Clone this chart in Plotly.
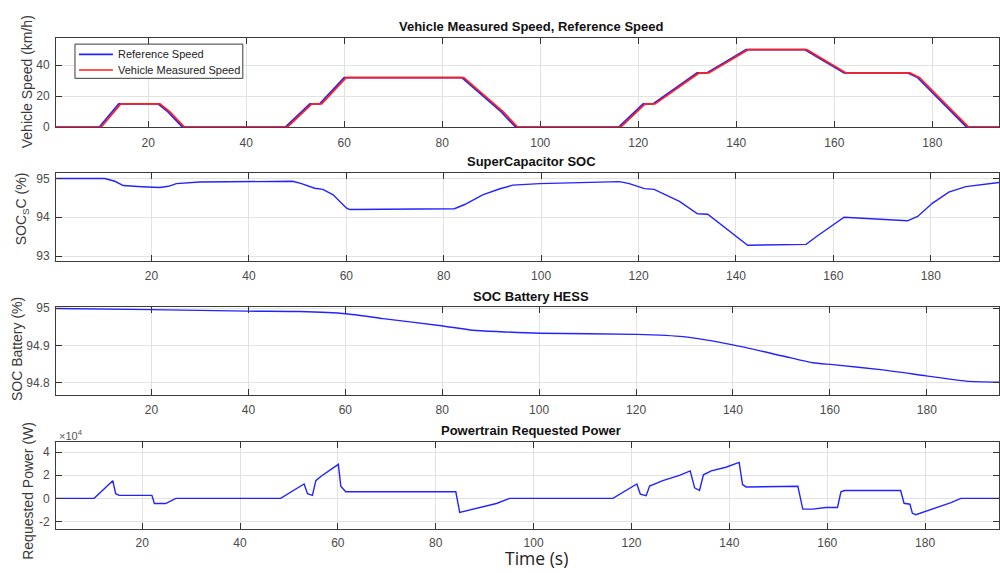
import plotly.graph_objects as go

# ---------------- data ----------------
time_ticks = [20, 40, 60, 80, 100, 120, 140, 160, 180]

ref_speed_t = [1, 10, 14, 22, 24, 27, 48, 53, 55, 60, 84, 92, 95, 116, 121, 123,
               132, 134, 142, 154, 162, 175, 177, 184, 187, 195]
ref_speed_v = [0, 0, 15, 15, 10, 0, 0, 15, 15, 32, 32, 10, 0, 0, 15, 15,
               35, 35, 50, 50, 35, 35, 32, 10, 0, 0]

meas_speed_t = [1, 10.4, 14.4, 22.4, 24.4, 27.4, 48.4, 53.4, 55.4, 60.4, 84.4, 92.4, 95.4,
                116.4, 121.4, 123.4, 132.4, 134.4, 142.4, 154.4, 162.4, 175.4, 177.4,
                184.4, 187.4, 195]
meas_speed_v = [0, 0, 15, 15, 10, 0, 0, 15, 15, 32, 32, 10, 0, 0, 15, 15,
                35, 35, 50, 50, 35, 35, 32, 10, 0, 0]

sc_t = [0.5, 10.4, 12.5, 14.2, 18, 21.7, 23.5, 25.1, 29.9, 39.8, 49.0, 50.8, 53.5, 55.2,
        57.3, 60.0, 60.7, 82.2, 84.3, 88.0, 91.4, 94.2, 99.7, 116.1, 118.1, 121.2, 123.2,
        128.4, 132.1, 134.2, 142.4, 154.4, 156.4, 162.2, 175.2, 177.3, 180.3, 183.7,
        187.2, 194]
sc_v = [95.0, 95.0, 94.93, 94.82, 94.79, 94.77, 94.80, 94.87, 94.91, 94.93, 94.93, 94.87,
        94.75, 94.72, 94.58, 94.24, 94.20, 94.22, 94.33, 94.58, 94.73, 94.83, 94.87, 94.92,
        94.87, 94.74, 94.72, 94.41, 94.09, 94.08, 93.28, 93.30, 93.49, 94.00, 93.91, 94.02,
        94.36, 94.65, 94.79, 94.90]

bat_t = [0.4, 20.0, 39.9, 50.6, 60.2, 67.8, 79.8, 86.3, 91.9, 100.1, 120.1, 129.7, 140.0,
         150.3, 156.5, 160.6, 170.9, 179.9, 188.1, 195]
bat_v = [94.999, 94.996, 94.992, 94.991, 94.985, 94.972, 94.953, 94.941, 94.937, 94.933,
         94.930, 94.924, 94.902, 94.872, 94.854, 94.849, 94.835, 94.819, 94.805, 94.802]

pw_t = [2.4, 10.2, 14.0, 14.6, 15.3, 22.0, 22.5, 24.8, 26.9, 48.3, 53.1, 53.8, 54.8, 55.5,
        56.5, 60.1, 60.6, 61.6, 84.1, 84.9, 92.4, 95.1, 116.2, 121.1, 121.8, 123.0, 123.7,
        126.4, 129.8, 132.0, 132.9, 133.9, 134.7, 136.3, 139.3, 142.0, 142.7, 143.4, 154.0,
        155.0, 157.0, 159.7, 162.1, 162.8, 163.5, 175.0, 175.7, 176.9, 177.4, 178.1, 185.3,
        187.3, 195.1]
pw_v = [0, 0, 15300, 4000, 2600, 2600, -4500, -4500, 0, 0, 12500, 4000, 2600, 15300,
        19000, 29500, 10500, 5700, 5700, -12200, -4500, 0, 0, 12500, 3700, 2300, 10600,
        15300, 19900, 23800, 9100, 6800, 20400, 23800, 27000, 31200, 11900, 9900, 10500,
        -9400, -9400, -7900, -7900, 5700, 6800, 6800, -4300, -5100, -13000, -14200, -3700,
        0, 0]

titles = ["Vehicle Measured Speed, Reference Speed", "SuperCapacitor SOC",
          "SOC Battery HESS", "Powertrain Requested Power"]
ylabels = ["Vehicle Speed (km/h)", "SOC<sub>S</sub>C (%)", "SOC Battery (%)",
           "Requested Power (W)"]
legend_names = ["Reference Speed", "Vehicle Measured Speed"]
speed_yticks = [0, 20, 40]
sc_yticks = [93, 94, 95]
bat_yticks = [94.8, 94.9, 95]
bat_yticktext = ["94.8", "94.9", "95"]
pw_yticks = [-20000, 0, 20000, 40000]
pw_yticktext = ["-2", "0", "2", "4"]

# ---------------- layout helpers ----------------
W, H = 1000, 573
L, R = 56, 1000
panels_px = [(33, 124), (171, 261), (308, 398), (446, 535)]
xranges = [[1.2, 193.6], [0.4, 194.0], [0.3, 194.9], [2.4, 195.1]]
yranges = [[0, 57.4], [92.87, 95.14], [94.768, 95.003], [-26500, 49000]]
title_y = [21, 159, 297, 434]
ylab_pos = [(27, 78), (22, 208), (17, 351), (28, 496)]


def px_x(px):
    return (px - L) / (R - L)


def px_y(py):
    return 1 - py / H


FONT = "Liberation Sans, Arial, sans-serif"
BLUE = "rgb(35,35,255)"
RED = "rgb(255,30,30)"
LINE_COLORS = [BLUE, RED]

fig = go.Figure()

fig.add_trace(go.Scatter(x=ref_speed_t, y=ref_speed_v, mode="lines", name=legend_names[0],
                         line=dict(color=BLUE, width=1.7), xaxis="x", yaxis="y"))
fig.add_trace(go.Scatter(x=meas_speed_t, y=meas_speed_v, mode="lines",
                         name=legend_names[1],
                         line=dict(color=RED, width=1.7), xaxis="x", yaxis="y"))
fig.add_trace(go.Scatter(x=sc_t, y=sc_v, mode="lines",
                         line=dict(color=BLUE, width=1.4), xaxis="x2", yaxis="y2"))
fig.add_trace(go.Scatter(x=bat_t, y=bat_v, mode="lines",
                         line=dict(color=BLUE, width=1.4, shape="spline", smoothing=0.6),
                         xaxis="x3", yaxis="y3"))
fig.add_trace(go.Scatter(x=pw_t, y=pw_v, mode="lines",
                         line=dict(color=BLUE, width=1.4), xaxis="x4", yaxis="y4"))

axis_common = dict(showgrid=True, gridcolor="#e2e2e2", gridwidth=1, ticks="inside",
                   ticklen=6, tickcolor="#333333", tickwidth=1, showline=True,
                   linecolor="#3c3c3c", linewidth=1, mirror="ticks", zeroline=False,
                   tickfont=dict(family=FONT, size=12, color="#4a4a4a"))

ytick_specs = [(speed_yticks, None), (sc_yticks, None), (bat_yticks, bat_yticktext),
               (pw_yticks, pw_yticktext)]

layout = {}
for i in range(4):
    sfx = "" if i == 0 else str(i + 1)
    top, bot = panels_px[i]
    xa = dict(axis_common)
    xa.update(domain=[0, 1], range=xranges[i], tickvals=time_ticks,
              anchor="y" + sfx, ticklabelstandoff=4 if i < 3 else 3)
    if i == 0:
        xa.update(layer="below traces")
    ya = dict(axis_common)
    tv, tt = ytick_specs[i]
    ya.update(domain=[px_y(bot), px_y(top)], range=yranges[i], tickvals=tv,
              anchor="x" + sfx, ticklabelstandoff=3)
    if tt is not None:
        ya.update(ticktext=tt)
    layout["xaxis" + sfx] = xa
    layout["yaxis" + sfx] = ya

annotations = []
for i in range(4):
    annotations.append(dict(text="<b>" + titles[i] + "</b>", xref="paper", yref="paper",
                            x=px_x(532), y=px_y(title_y[i]), xanchor="center",
                            yanchor="middle", showarrow=False,
                            font=dict(family=FONT, size=13, color="#111111")))
    lx, ly = ylab_pos[i]
    annotations.append(dict(text=ylabels[i], xref="paper", yref="paper",
                            x=px_x(lx), y=px_y(ly), xanchor="center", yanchor="middle",
                            textangle=-90, showarrow=False,
                            font=dict(family=FONT, size=14, color="#3a3a3a")))
annotations.append(dict(text="\u00d710<sup>4</sup>", xref="paper", yref="paper",
                        x=px_x(57), y=px_y(439), xanchor="left", yanchor="middle",
                        showarrow=False, font=dict(family=FONT, size=11, color="#555555")))
annotations.append(dict(text="Time (s)", xref="paper", yref="paper",
                        x=px_x(537), y=px_y(565), xanchor="center", yanchor="middle",
                        showarrow=False, borderpad=0,
                        font=dict(family="Open Sans, Noto Sans, sans-serif", size=17.5,
                                  color="#222222")))

# legend box (drawn as a MATLAB-like compact legend)
shapes = [dict(type="rect", xref="paper", yref="paper",
               x0=px_x(75), x1=px_x(243), y0=px_y(74), y1=px_y(39),
               line=dict(color="#3a3a3a", width=1), fillcolor="white", layer="above")]
legend_rows = [49.5, 65.5]
for k in range(2):
    shapes.append(dict(type="line", xref="paper", yref="paper",
                       x0=px_x(79), x1=px_x(113), y0=px_y(legend_rows[k]),
                       y1=px_y(legend_rows[k]), layer="above",
                       line=dict(color=LINE_COLORS[k], width=1.7)))
    annotations.append(dict(text=legend_names[k], xref="paper", yref="paper",
                            x=px_x(116), y=px_y(legend_rows[k]), xanchor="left",
                            yanchor="middle", showarrow=False,
                            font=dict(family=FONT, size=11, color="#222222")))

fig.update_layout(
    width=W, height=H,
    margin=dict(l=L, r=W - R, t=0, b=0),
    paper_bgcolor="white", plot_bgcolor="white",
    showlegend=False,
    annotations=annotations,
    shapes=shapes,
    **layout,
)

fig.write_html("out.html")
